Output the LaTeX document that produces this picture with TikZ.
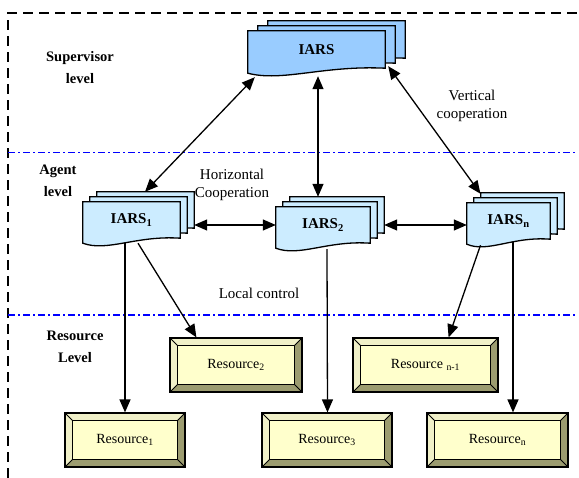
\documentclass[tikz,border=0pt]{standalone}
\usepackage{fontspec}
\setmainfont{Liberation Serif}
\usetikzlibrary{calc,backgrounds,arrows.meta}

\definecolor{supfill}{HTML}{99CCFF}
\definecolor{agfill}{HTML}{CCECFF}
\definecolor{resface}{HTML}{FFFFCC}
\definecolor{reslight}{HTML}{F0F0C8}
\definecolor{resdark}{HTML}{9C9C70}
\definecolor{tierblue}{HTML}{0000FF}

\tikzset{
  doc/.style={rectangle, inner sep=0pt, font=\fontsize{15}{18}\selectfont\bfseries},
  res/.style={rectangle, draw=black, line width=1.2pt, inner sep=0pt,
              font=\fontsize{14}{17}\selectfont},
  level/.style={align=center, font=\fontsize{14.5}{22}\selectfont\bfseries},
  note/.style={align=center, font=\fontsize{15}{18}\selectfont},
  tip/.tip={Triangle[length=13pt,width=11pt]},
  link/.style={line width=1.3pt, -tip},
  twoway/.style={line width=1.3pt, tip-tip},
  frame/.style={line width=2pt, dash pattern=on 10pt off 6pt},
  tier/.style={tierblue, line width=1.3pt, dash pattern=on 7pt off 3pt on 2pt off 3pt}
}

% three stacked document sheets behind a node: #1 node, #2 x offset per sheet, #3 fill
\newcommand\docstack[3]{%
  \begin{scope}[on background layer]
    \foreach \k in {2,1,0}{
      \path[draw=black, line width=1.3pt, fill=#3]
        let \p1=(#1.north west), \p2=(#1.south east), \n1={\x2-\x1} in
        (\x1+\k*#2pt, \y1+\k*5pt) -- (\x2+\k*#2pt, \y1+\k*5pt)
        -- (\x2+\k*#2pt, \y2+\k*5pt)
        .. controls (\x1+\k*#2pt+0.55*\n1, \y2+\k*5pt+3pt)
               and (\x1+\k*#2pt+0.25*\n1, \y2+\k*5pt-14pt)
        .. (\x1+\k*#2pt, \y2+\k*5pt-5pt) -- cycle;
    }
  \end{scope}}

% bevelled frame and face behind a resource node
\newcommand\bevel[1]{%
  \begin{scope}[on background layer]
    \path[fill=reslight] let \p1=(#1.north west), \p2=(#1.south east) in
      (\x1,\y1) -- (\x2,\y1) -- (\x2-8pt,\y1-8pt) -- (\x1+8pt,\y1-8pt)
      -- (\x1+8pt,\y2+8pt) -- (\x1,\y2) -- cycle;
    \path[fill=resdark] let \p1=(#1.north west), \p2=(#1.south east) in
      (\x2,\y1) -- (\x2,\y2) -- (\x1,\y2) -- (\x1+8pt,\y2+8pt)
      -- (\x2-8pt,\y2+8pt) -- (\x2-8pt,\y1-8pt) -- cycle;
    \path[draw=black, line width=1pt, fill=resface]
      let \p1=(#1.north west), \p2=(#1.south east) in
      (\x1+8pt,\y1-8pt) rectangle (\x2-8pt,\y2+8pt);
    \path[draw=black, line width=0.8pt]
      let \p1=(#1.north west), \p2=(#1.south east) in
      (\x1,\y1) -- (\x1+8pt,\y1-8pt) (\x2,\y1) -- (\x2-8pt,\y1-8pt)
      (\x1,\y2) -- (\x1+8pt,\y2+8pt) (\x2,\y2) -- (\x2-8pt,\y2+8pt);
  \end{scope}}

\begin{document}
\begin{tikzpicture}[x=1pt, y=-1pt]
  \useasboundingbox (0,0) rectangle (579,478);

  % outer frame and level separators
  \draw[frame] (8,478) -- (8,13) -- (579,13);
  \draw[tier] (8,152.5) -- (576,152.5);
  \draw[tier] (8,315) -- (576,315);

  % level captions
  \node[level] (lsup) at (80,68) {Supervisor\\level};
  \node[level] (lag)  at (58,181) {Agent\\level};
  \node[level] (lres) at (75,347) {Resource\\Level};

  % agents
  \node[doc, minimum width=137pt, minimum height=37pt] (iars) at (316.5,49.5) {IARS};
  \docstack{iars}{10}{supfill}
  \node[doc, minimum width=97pt, minimum height=36pt] (a1) at (131.5,220) {IARS\textsubscript{1}};
  \docstack{a1}{7}{agfill}
  \node[doc, minimum width=94pt, minimum height=36pt] (a2) at (323,225) {IARS\textsubscript{2}};
  \docstack{a2}{7}{agfill}
  \node[doc, minimum width=83pt, minimum height=36pt] (an) at (508.5,221) {IARS\textsubscript{n}};
  \docstack{an}{7}{agfill}

  % resources
  \node[res, minimum width=132pt, minimum height=54pt] (r2)  at (236,365)   {Resource\textsubscript{2}};
  \bevel{r2}
  \node[res, minimum width=145pt, minimum height=54pt] (rnm) at (425.5,365) {Resource \textsubscript{n-1}};
  \bevel{rnm}
  \node[res, minimum width=120pt, minimum height=54pt] (r1)  at (125,440)   {Resource\textsubscript{1}};
  \bevel{r1}
  \node[res, minimum width=130pt, minimum height=54pt] (r3)  at (327,440)   {Resource\textsubscript{3}};
  \bevel{r3}
  \node[res, minimum width=141pt, minimum height=54pt] (rn)  at (497.5,440) {Resource\textsubscript{n}};
  \bevel{rn}

  % annotations
  \node[note] (hcoop) at (232,185) {Horizontal\\Cooperation};
  \node[note] (vcoop) at (472,106) {Vertical\\cooperation};
  \node[note] (lctl)  at (259,293) {Local control};

  % vertical cooperation
  \draw[twoway] ($(iars.south west)+(7,9)$) -- ($(a1.north)+(13.5,-10)$);
  \draw[twoway] ($(iars.south)+(1.5,8)$) -- ($(a2.north)+(-5,-10)$);
  \draw[twoway] ($(iars.south east)+(3,-2)$) -- ($(an.north)+(-28,-9)$);

  % horizontal cooperation
  \draw[twoway] ($(a1.east)+(14,5)$) -- (a2.west);
  \draw[twoway] ($(a2.east)+(14,0)$) -- ($(an.west)+(0,4)$);

  % local control
  \draw[link] ($(a1.south)+(-6.5,5)$) -- (r1.north);
  \draw[link] ($(a1.south)+(6.5,5)$) -- ($(r2.north west)+(27,0)$);
  \draw[link] ($(a2.south)+(4,6)$) -- ($(r3.north)+(0.5,0)$);
  \draw[link] ($(an.south)+(-28,6)$) -- ($(rnm.north east)+(-50,0)$);
  \draw[link] ($(an.south)+(4.5,3)$) -- ($(rn.north)+(15.5,0)$);
\end{tikzpicture}
\end{document}
